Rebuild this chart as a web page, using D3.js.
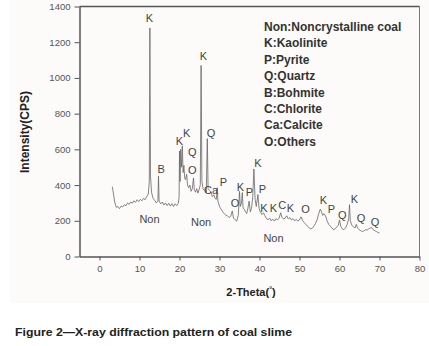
<!DOCTYPE html>
<html>
<head>
<meta charset="utf-8">
<script src="https://cdn.jsdelivr.net/npm/d3@7"></script>
<style>
  body { margin: 0; background: #fff; }
  svg { display: block; font-family: "Liberation Sans", Arial, sans-serif; }
  .tick text { fill: #555; font-size: 9.5px; }
  .tick line { stroke: #555; }
  .domain { stroke: #555; stroke-width: 1.5; }
</style>
</head>
<body>
<div id="chart"></div>
<script>
const width = 429
const height = 346
const margin = {top: 6.5, right: 9.5, bottom: 89.5, left: 79.5}

// diffraction trace
const theta = [3.2, 3.5, 3.8, 4.2, 4.6, 5.0, 5.4, 5.8, 6.2, 6.6, 7.0, 7.4, 7.8, 8.2, 8.6, 9.0, 9.4, 9.8,
  10.2, 10.6, 11.0, 11.4, 11.8, 12.2, 12.45, 12.6, 12.75, 13.0, 13.4, 13.8, 14.2, 14.6, 14.75, 14.9,
  15.3, 15.7, 16.1, 16.5, 16.9, 17.3, 17.7, 18.1, 18.5, 18.9, 19.3, 19.7, 19.9, 20.0, 20.15, 20.3,
  20.5, 20.7, 20.9, 21.1, 21.3, 21.5, 21.8, 22.0, 22.3, 22.6, 22.9, 23.2, 23.5, 23.7, 24.0, 24.3,
  24.6, 24.9, 25.2, 25.4, 25.6, 25.9, 26.2, 26.5, 26.7, 26.95, 27.15, 27.5, 27.9, 28.2, 28.6, 28.9,
  29.2, 29.45, 29.6, 30.0, 30.4, 30.8, 31.2, 31.6, 32.0, 32.4, 32.8, 33.2, 33.5, 33.9, 34.3, 34.7,
  35.0, 35.2, 35.5, 35.7, 35.9, 36.2, 36.5, 36.8, 37.1, 37.4, 37.7, 38.0, 38.3, 38.6, 38.9, 39.2,
  39.6, 39.9, 40.2, 40.6, 41.0, 41.3, 41.7, 42.1, 42.5, 42.9, 43.3, 43.7, 44.1, 44.5, 44.9, 45.3,
  45.6, 46.0, 46.4, 46.8, 47.2, 47.6, 48.0, 48.4, 48.8, 49.2, 49.6, 50.0, 50.4, 50.8, 51.2, 51.6,
  52.0, 52.4, 52.8, 53.2, 53.6, 54.0, 54.4, 54.8, 55.2, 55.5, 55.8, 56.1, 56.5, 56.9, 57.3, 57.7,
  58.1, 58.5, 58.9, 59.3, 59.7, 60.0, 60.3, 60.7, 61.1, 61.5, 61.9, 62.3, 62.5, 62.7, 63.1, 63.5,
  63.9, 64.2, 64.5, 64.9, 65.3, 65.7, 66.1, 66.5, 66.9, 67.3, 67.7, 68.0, 68.4, 68.8, 69.2, 69.6, 70.0]
const intensity = [391, 350, 305, 275, 280, 268, 282, 278, 290, 284, 300, 292, 305, 298, 312, 303, 318, 308,
  320, 312, 325, 318, 335, 350, 420, 1280, 450, 360, 325, 315, 300, 310, 450, 310,
  295, 305, 288, 300, 285, 298, 282, 296, 280, 295, 285, 298, 330, 590, 420, 600,
  500, 620, 470, 510, 440, 430, 460, 400, 385, 400, 365, 380, 440, 375, 360, 380,
  355, 375, 400, 1070, 420, 380, 370, 375, 360, 660, 380, 370, 360, 335, 345, 325,
  320, 385, 310, 280, 265, 250, 240, 230, 228, 218, 225, 255, 215, 205, 198, 230,
  365, 280, 300, 358, 270, 265, 250, 240, 270, 310, 250, 270, 330, 490, 320, 280,
  347, 270, 250, 235, 245, 230, 215, 205, 215, 200, 210, 198, 212, 205, 215, 245,
  220, 210, 215, 228, 210, 218, 205, 212, 200, 208, 198, 205, 222, 200, 190, 180,
  170, 160, 155, 158, 170, 185, 205, 240, 265, 250, 230, 240, 228, 200, 180, 170,
  160, 150, 155, 165, 175, 205, 170, 155, 150, 160, 180, 210, 290, 200, 175, 165,
  160, 180, 160, 150, 145, 140, 143, 150, 148, 155, 160, 162, 150, 145, 140, 135, 132]

// peak annotations: label, 2-theta, intensity
const peakText = ["K", "B", "K", "K", "Q", "O", "K", "Q", "Ca", "P", "O", "K", "P", "K", "P",
  "K", "K", "C", "K", "O", "K", "P", "Q", "K", "Q", "Q"]
const peakTheta = [12.5, 15.4, 20.0, 21.8, 23.2, 23.2, 26.0, 27.9, 27.9, 31.0, 33.9, 35.25, 37.5, 39.6, 40.7,
  41.1, 43.5, 45.7, 47.7, 51.5, 56.0, 58.0, 60.7, 63.75, 65.4, 68.9]
const peakI = [1338, 491, 645, 692, 585, 483, 1125, 692, 370, 418, 297, 390, 362, 524, 375,
  269, 269, 286, 269, 263, 315, 263, 230, 323, 216, 194]

const nonTheta = [12.5, 25.4, 43.5]
const nonI = [207, 192, 105]

const legendItems = ["Non:Noncrystalline coal", "K:Kaolinite", "P:Pyrite", "Q:Quartz",
  "B:Bohmite", "C:Chlorite", "Ca:Calcite", "O:Others"]

const xTicks = [0, 10, 20, 30, 40, 50, 60, 70, 80]
const yTicks = [0, 200, 400, 600, 800, 1000, 1200, 1400]

var svg = d3.select("#chart").append("svg")
  .attr("width", width)
  .attr("height", height)

// faint page panel behind the figure
svg.append("rect")
  .attr("x", 10).attr("y", 0)
  .attr("width", width - 10).attr("height", 303)
  .attr("fill", "#fcfbf9")

var xScale = d3.scaleLinear()
  .domain([-5, 80])
  .range([margin.left, width - margin.right])
var yScale = d3.scaleLinear()
  .domain([0, 1400])
  .range([height - margin.bottom, margin.top])

// frame top / right
svg.append("line")
  .attr("x1", margin.left).attr("x2", width - margin.right)
  .attr("y1", margin.top).attr("y2", margin.top)
  .attr("stroke", "#555").attr("stroke-width", 1.5)
svg.append("line")
  .attr("x1", width - margin.right).attr("x2", width - margin.right)
  .attr("y1", margin.top).attr("y2", height - margin.bottom)
  .attr("stroke", "#777").attr("stroke-width", 1)

svg.append("g")
  .attr("transform", "translate(0," + (height - margin.bottom) + ")")
  .call(d3.axisBottom(xScale).tickValues(xTicks).tickSize(4).tickPadding(5).tickSizeOuter(0))
svg.append("g")
  .attr("transform", "translate(" + margin.left + ",0)")
  .call(d3.axisLeft(yScale).tickValues(yTicks).tickFormat(d3.format("d")).tickSize(5).tickPadding(4).tickSizeOuter(0))

var line = d3.line()
  .x(function(d, i) { return xScale(theta[i]) })
  .y(function(d) { return yScale(d) })

svg.append("path")
  .datum(intensity)
  .attr("d", line)
  .attr("fill", "none")
  .attr("stroke", "#666")
  .attr("stroke-width", 0.8)
  .attr("stroke-linejoin", "round")

svg.append("g").selectAll("text")
  .data(peakText)
  .join("text")
  .attr("x", function(d, i) { return xScale(peakTheta[i]) })
  .attr("y", function(d, i) { return yScale(peakI[i]) })
  .attr("dy", "0.36em")
  .attr("text-anchor", "middle")
  .attr("font-size", 11)
  .attr("fill", "#444")
  .text(function(d) { return d })

svg.append("g").selectAll("text")
  .data(nonI)
  .join("text")
  .attr("x", function(d, i) { return xScale(nonTheta[i]) })
  .attr("y", function(d) { return yScale(d) })
  .attr("dy", "0.36em")
  .attr("text-anchor", "middle")
  .attr("font-size", 11)
  .attr("fill", "#444")
  .text("Non")

// legend
svg.append("g").selectAll("text")
  .data(legendItems)
  .join("text")
  .attr("x", 264)
  .attr("y", function(d, i) { return 31 + i * 16.4 })
  .attr("font-size", 12)
  .attr("font-weight", "bold")
  .attr("fill", "#333")
  .text(function(d) { return d })

// axis titles
svg.append("text")
  .attr("transform", "translate(" + 25 + "," + 132 + ")rotate(-90)")
  .attr("dy", "0.36em")
  .attr("text-anchor", "middle")
  .attr("font-size", 12)
  .attr("font-weight", "bold")
  .attr("fill", "#222")
  .text("Intensity(CPS)")

var xt = svg.append("text")
  .attr("x", 251).attr("y", 296)
  .attr("text-anchor", "middle")
  .attr("font-size", 11)
  .attr("font-weight", "bold")
  .attr("fill", "#222")
xt.append("tspan").text("2-Theta(")
xt.append("tspan").attr("font-size", 7).attr("dy", -4).text("°")
xt.append("tspan").attr("dy", 4).text(")")

svg.append("text")
  .attr("x", 15).attr("y", 336)
  .attr("font-size", 11.5)
  .attr("font-weight", "bold")
  .attr("fill", "#222")
  .attr("textLength", 277)
  .attr("lengthAdjust", "spacingAndGlyphs")
  .text("Figure 2\u2014X-ray diffraction pattern of coal slime")
</script>
</body>
</html>
